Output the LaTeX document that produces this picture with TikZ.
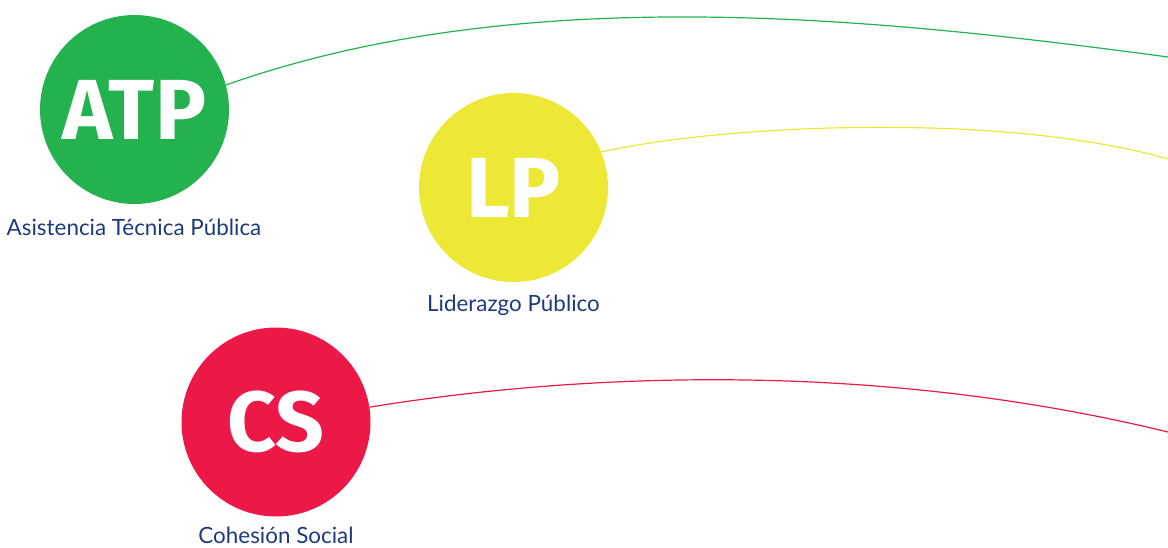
\documentclass[tikz,border=0pt]{standalone}
\usepackage{fontspec}
\setmainfont{Lato}
\newfontfamily\badgefont{Fira Sans}
\definecolor{atpgreen}{HTML}{23B24E}
\definecolor{lpyellow}{HTML}{ECE835}
\definecolor{csred}{HTML}{EC1848}
\definecolor{labelblue}{HTML}{1E3A7F}
\begin{document}
\begin{tikzpicture}[x=0.75pt,y=-0.75pt,
  badge/.style={circle, inner sep=0pt, minimum size=141.75pt, text=white,
    font=\badgefont\bfseries\fontsize{64}{64}\selectfont},
  caption/.style={anchor=base, text=labelblue, inner sep=0pt,
    font=\fontsize{16.8}{19}\selectfont},
  link/.style={line width=0.9pt}]
\useasboundingbox (0,0) rectangle (1168,547);

\node[badge, fill=atpgreen] (ATP) at (134.5,109.5) {ATP};
\node[badge, fill=lpyellow] (LP) at (513.5,187.5) {LP};
\node[badge, fill=csred] (CS) at (276,422) {CS};

\node[caption] (ATPl) at (134,235) {Asistencia Técnica Pública};
\node[caption] (LPl) at (513.5,311) {Liderazgo Público};
\node[caption] (CSl) at (276,543) {Cohesión Social};

\coordinate (ATPend) at (1168,57);
\coordinate (LPend) at (1168,159);
\coordinate (CSend) at (1168,432);

\draw[link, atpgreen] (ATP.15) .. controls (520,-19) and (870,17) .. (ATPend);
\draw[link, lpyellow] (LP.22) .. controls (720,125) and (1000,111) .. (LPend);
\draw[link, csred] (CS.9) .. controls (560,376) and (860,357) .. (CSend);
\end{tikzpicture}
\end{document}
